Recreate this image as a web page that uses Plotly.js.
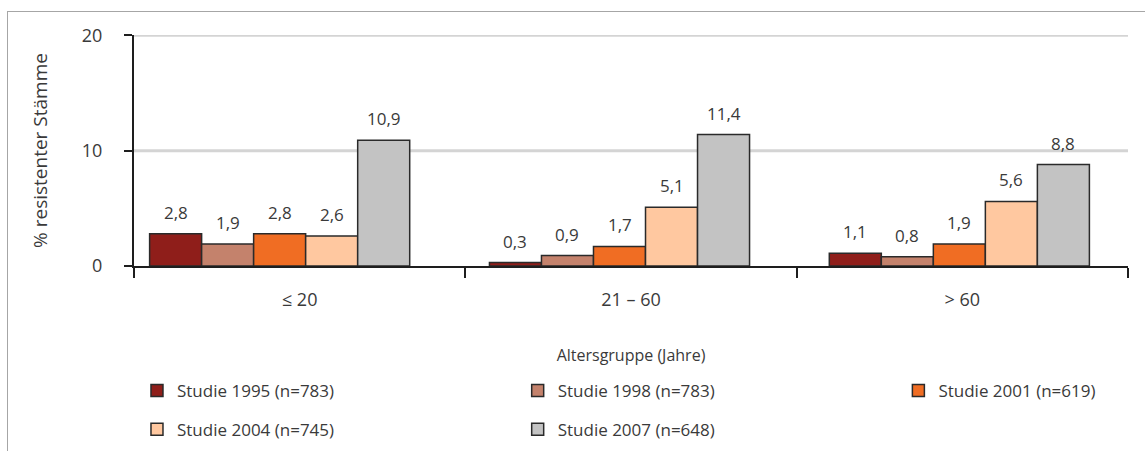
<!DOCTYPE html>
<html>
<head>
<meta charset="utf-8">
<script src="https://cdn.plot.ly/plotly-3.0.1.min.js"></script>
<style>
  html, body { margin: 0; padding: 0; background: #fff; }
  #wrap { position: relative; width: 1145px; height: 451px; }
  #chart { position: absolute; left: 0; top: 0; width: 1145px; height: 451px; }
  #frame { position: absolute; left: 7px; top: 11px; right: 0; bottom: -2px;
           border-top: 1px solid #a6a6a6; border-left: 1px solid #a6a6a6; pointer-events: none; }
</style>
</head>
<body>
<div id="wrap">
  <div id="chart"></div>
  <div id="frame"></div>
</div>
<script>
// Age groups on the x axis
const categories = ['≤ 20', '21 – 60', '> 60'];

// Share of resistant strains (%) per study and age group
const series = [
  'Studie 1995 (n=783)',
  'Studie 1998 (n=783)',
  'Studie 2001 (n=619)',
  'Studie 2004 (n=745)',
  'Studie 2007 (n=648)'
];
const study1995 = [2.8, 0.3, 1.1];
const study1998 = [1.9, 0.9, 0.8];
const study2001 = [2.8, 1.7, 1.9];
const study2004 = [2.6, 5.1, 5.6];
const study2007 = [10.9, 11.4, 8.8];

const yTicks = [0, 10, 20];
const yTickText = ['0', '10', '20'];

const values = [study1995, study1998, study2001, study2004, study2007];
const colors = ['#8f1e1a', '#c4826c', '#f06d23', '#ffc8a0', '#c3c3c3'];

// Bar geometry (in category units): bar width and spacing of the bar clusters
const BAR_W = 0.157;
const CLUSTER_START = -0.0604;
const CLUSTER_PITCH = 1.0257;

const FONT = '"Open Sans", "Noto Sans", sans-serif';
const TXT = '#3a3a3a';

function fmt(v) { return v.toFixed(1).replace('.', ','); }

const traces = [];
const annotations = [];
values.forEach((vals, i) => {
  const offsets = vals.map((_, k) => CLUSTER_START + CLUSTER_PITCH * k - k - 2.5 * BAR_W + i * BAR_W);
  traces.push({
    type: 'bar',
    name: series[i],
    x: categories,
    y: vals,
    width: BAR_W,
    offset: offsets,
    marker: { color: colors[i], line: { color: '#2a2a2a', width: 1.5 } },
    legend: i === 0 ? 'legend' : 'legend' + (i + 1),
    hoverinfo: 'x+y+name'
  });
  vals.forEach((v, k) => {
    annotations.push({
      xref: 'x', yref: 'y',
      x: k + offsets[k] + BAR_W / 2,
      y: v,
      yanchor: 'bottom',
      yshift: 8,
      showarrow: false,
      text: fmt(v),
      font: { family: FONT, size: 17, color: TXT }
    });
  });
});

// Horizontal grid lines at the non-zero y ticks
const gridShapes = yTicks.filter(t => t > 0).map(t => ({
  type: 'line', layer: 'below',
  xref: 'paper', x0: 0, x1: 1,
  yref: 'y', y0: t, y1: t,
  line: { color: '#d4d4d4', width: 3 }
}));

// Legend placement (figure coordinates): three columns, two rows
const legendCols = [0.003, 0.386, 0.769, 0.003, 0.386];
const legendRows = [0.133, 0.133, 0.133, 0.047, 0.047];

const layout = {
  width: 1145,
  height: 451,
  margin: { l: 134, r: 17, t: 35, b: 185 },
  paper_bgcolor: '#ffffff',
  plot_bgcolor: '#ffffff',
  barmode: 'group',
  font: { family: FONT, size: 17, color: TXT },
  xaxis: {
    type: 'category',
    range: [-0.5, 2.5],
    showline: true,
    linecolor: '#1e1e1e',
    linewidth: 2,
    ticks: 'outside',
    tickson: 'boundaries',
    ticklen: 10,
    tickwidth: 2,
    tickcolor: '#1e1e1e',
    showgrid: false,
    zeroline: false,
    tickfont: { family: FONT, size: 18, color: TXT },
    ticklabelstandoff: 16,
    title: { text: 'Altersgruppe (Jahre)', font: { family: FONT, size: 16, color: TXT }, standoff: 40 },
    automargin: true,
    fixedrange: true
  },
  yaxis: {
    range: [0, 20.03],
    tickmode: 'array',
    tickvals: yTicks,
    ticktext: yTickText,
    showline: true,
    linecolor: '#1e1e1e',
    linewidth: 2,
    ticks: 'outside',
    ticklen: 8,
    tickwidth: 2,
    tickcolor: '#1e1e1e',
    showgrid: false,
    zeroline: false,
    tickfont: { family: FONT, size: 18, color: TXT },
    ticklabelstandoff: 18,
    title: { text: '% resistenter Stämme', font: { family: FONT, size: 19, color: TXT }, standoff: 29 },
    automargin: false,
    fixedrange: true
  },
  shapes: gridShapes,
  annotations: annotations,
  showlegend: true
};

series.forEach((_, i) => {
  const key = i === 0 ? 'legend' : 'legend' + (i + 1);
  layout[key] = {
    xref: 'paper',
    yref: 'container',
    x: legendCols[i],
    y: legendRows[i],
    xanchor: 'left',
    yanchor: 'middle',
    orientation: 'v',
    bgcolor: 'rgba(0,0,0,0)',
    borderwidth: 0,
    font: { family: FONT, size: 17, color: TXT },
    itemclick: false,
    itemdoubleclick: false
  };
});

Plotly.newPlot('chart', traces, layout, { displayModeBar: false, staticPlot: true });
</script>
</body>
</html>
